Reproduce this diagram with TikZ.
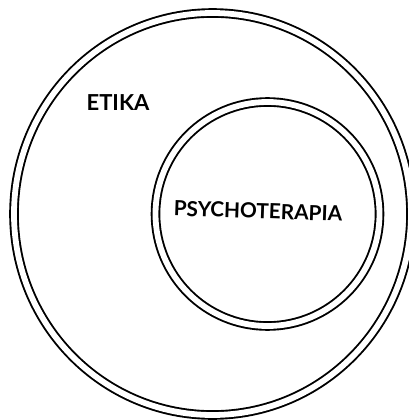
\documentclass[tikz,border=0pt]{standalone}
\usepackage{fontspec}
\setmainfont{Lato}
\begin{document}
\begin{tikzpicture}[x=1pt,y=-1pt,
  ring/.style={draw=black, line width=1.9pt, double=white, double distance=5.8pt},
  lbl/.style={font=\bfseries, inner sep=0pt}]
\useasboundingbox[fill=white] (0,0) rectangle (408,420);
\draw[ring] (212.5,214) ellipse [x radius=198.5, y radius=201];
\draw[ring] (267.5,214) circle [radius=112];
\node[lbl, font=\bfseries\fontsize{22}{24}\selectfont] (etika) at (118,103) {ETIKA};
\node[lbl, font=\bfseries\fontsize{20.8}{24}\selectfont, rotate=-2] (psy) at (258,211) {PSYCHOTERAPIA};
\end{tikzpicture}
\end{document}
